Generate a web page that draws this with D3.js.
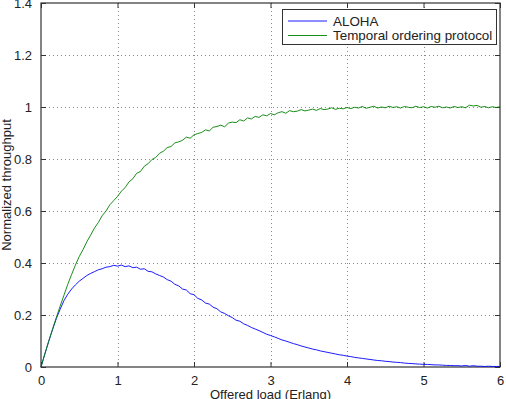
<!DOCTYPE html>
<html>
<head>
<meta charset="utf-8">
<script src="https://cdn.jsdelivr.net/npm/d3@7"></script>
<style>
body {margin:0; background:white;}
svg {display:block;}
text {font-family:"Liberation Sans", Arial, sans-serif;}
</style>
</head>
<body>
<svg></svg>
<script>

// offered load values, step 0.05 from 0 to 6
var loads = d3.range(0, 121).map(function(i){ return i/20 })

var alohaVals = [
0, 0.050, 0.098, 0.143, 0.186, 0.222, 0.255, 0.280, 0.300, 0.316,
0.330, 0.341, 0.352, 0.360, 0.367, 0.374, 0.378, 0.384, 0.386, 0.391,
0.388, 0.392, 0.386, 0.389, 0.382, 0.384, 0.376, 0.378, 0.368, 0.366,
0.358, 0.352, 0.346, 0.336, 0.330, 0.318, 0.312, 0.300, 0.296, 0.282,
0.278, 0.264, 0.258, 0.246, 0.242, 0.230, 0.224, 0.212, 0.206, 0.197,
0.190, 0.180, 0.176, 0.166, 0.160, 0.152, 0.146, 0.140, 0.133, 0.126,
0.121, 0.116, 0.110, 0.104, 0.100, 0.095, 0.090, 0.086, 0.081, 0.077,
0.073, 0.069, 0.066, 0.062, 0.059, 0.056, 0.053, 0.050, 0.047, 0.045,
0.042, 0.040, 0.037, 0.035, 0.033, 0.031, 0.029, 0.027, 0.025, 0.024,
0.022, 0.021, 0.019, 0.018, 0.017, 0.015, 0.014, 0.013, 0.012, 0.011,
0.010, 0.010, 0.009, 0.008, 0.008, 0.007, 0.006, 0.006, 0.005, 0.005,
0.004, 0.006, 0.003, 0.005, 0.003, 0.003, 0.002, 0.003, 0.002, 0.002,
0.002]

var temporalVals = [
0, 0.050, 0.098, 0.145, 0.190, 0.234, 0.276, 0.318, 0.356, 0.392,
0.425, 0.452, 0.482, 0.508, 0.535, 0.556, 0.582, 0.600, 0.624, 0.640,
0.656, 0.676, 0.690, 0.712, 0.724, 0.745, 0.752, 0.772, 0.782, 0.798,
0.806, 0.822, 0.830, 0.844, 0.848, 0.862, 0.866, 0.872, 0.884, 0.880,
0.893, 0.898, 0.902, 0.912, 0.908, 0.922, 0.925, 0.930, 0.924, 0.938,
0.942, 0.940, 0.951, 0.946, 0.958, 0.954, 0.964, 0.960, 0.970, 0.966,
0.975, 0.970, 0.978, 0.982, 0.976, 0.986, 0.982, 0.984, 0.990, 0.985,
0.988, 0.992, 0.987, 0.994, 0.990, 0.992, 0.997, 0.991, 0.995, 0.993,
0.998, 0.994, 0.999, 0.996, 1.002, 0.995, 0.999, 1.003, 0.996, 1.000,
0.997, 1.003, 0.998, 1.001, 0.996, 1.002, 0.999, 0.997, 1.003, 0.998,
1.001, 0.996, 1.002, 0.999, 1.003, 0.997, 1.000, 0.996, 1.002, 0.998,
1.001, 0.997, 1.007, 1.004, 1.006, 0.999, 1.002, 0.997, 1.001, 0.998,
1.001]

var seriesNames = ["ALOHA", "Temporal ordering protocol"]
var seriesColors = ["#0000ff", "#008000"]
var xTicks = [0, 1, 2, 3, 4, 5, 6]
var yTicks = [0, 0.2, 0.4, 0.6, 0.8, 1, 1.2, 1.4]

var screen = {width:506, height:399}
var margins = {top:3, right:6, bottom:32, left:41}

var setup = function()
{
    var svg = d3.select("svg")
        .attr("width", screen.width)
        .attr("height", screen.height)

    var width = screen.width - margins.left - margins.right
    var height = screen.height - margins.top - margins.bottom

    var xScale = d3.scaleLinear()
                    .domain([0, 6])
                    .range([0, width])
    var yScale = d3.scaleLinear()
                    .domain([0, 1.4])
                    .range([height, 0])

    var graph = svg.append("g")
        .attr("id", "graph")
        .attr("transform", "translate(" + margins.left + "," + margins.top + ")")

    // dotted grid
    graph.append("g").selectAll("line.gx")
        .data(xTicks.slice(1, -1))
        .enter().append("line")
        .attr("x1", function(d){ return Math.round(xScale(d)) + 0.5 })
        .attr("x2", function(d){ return Math.round(xScale(d)) + 0.5 })
        .attr("y1", 0).attr("y2", height)
        .attr("stroke", "#888").attr("stroke-dasharray", "1,3")
    graph.append("g").selectAll("line.gy")
        .data(yTicks.slice(1, -1))
        .enter().append("line")
        .attr("y1", function(d){ return Math.round(yScale(d)) + 0.5 })
        .attr("y2", function(d){ return Math.round(yScale(d)) + 0.5 })
        .attr("x1", 0).attr("x2", width)
        .attr("stroke", "#888").attr("stroke-dasharray", "1,3")

    // axes, ticks pointing inward like matlab
    var fmt = function(d){ return d3.format("~g")(d) }
    var xAxis = d3.axisBottom(xScale).tickValues(xTicks).tickSizeInner(-5).tickSizeOuter(0).tickPadding(9).tickFormat(fmt)
    var yAxis = d3.axisLeft(yScale).tickValues(yTicks).tickSizeInner(-5).tickSizeOuter(0).tickPadding(9).tickFormat(fmt)
    var xTop = d3.axisTop(xScale).tickValues(xTicks).tickSizeInner(-5).tickSizeOuter(0).tickFormat("")
    var yRight = d3.axisRight(yScale).tickValues(yTicks).tickSizeInner(-5).tickSizeOuter(0).tickFormat("")

    graph.append("g").attr("class", "axis").attr("transform", "translate(0," + height + ")").call(xAxis)
    graph.append("g").attr("class", "axis").call(yAxis)
    graph.append("g").attr("class", "axis").call(xTop)
    graph.append("g").attr("class", "axis").attr("transform", "translate(" + width + ",0)").call(yRight)

    graph.selectAll(".axis path").remove()
    graph.selectAll(".axis line").attr("stroke", "#333")
    graph.selectAll(".axis text").attr("font-size", 13).attr("fill", "#222")
        .attr("font-family", "Liberation Sans, Arial, sans-serif")

    graph.append("rect")
        .attr("x", 0).attr("y", 0)
        .attr("width", width).attr("height", height)
        .attr("fill", "none").attr("stroke", "#333").attr("stroke-width", 1.2)

    drawLines(graph, xScale, yScale)
    drawLegend(graph, width)

    svg.append("text")
        .text("Offered load (Erlang)")
        .attr("x", margins.left + width / 2)
        .attr("y", 399)
        .attr("text-anchor", "middle")
        .attr("font-size", 13)
        .attr("fill", "#222")

    svg.append("text")
        .text("Normalized throughput")
        .attr("transform", "translate(11," + (margins.top + height / 2) + ") rotate(-90)")
        .attr("text-anchor", "middle")
        .attr("font-size", 13)
        .attr("fill", "#222")
}

var drawLines = function(graph, xScale, yScale)
{
    var line = d3.line()
        .x(function(d, i){ return xScale(loads[i]) })
        .y(function(d){ return yScale(d) })

    graph.selectAll("path.series")
        .data([alohaVals, temporalVals])
        .enter()
        .append("path")
        .attr("class", "series")
        .attr("d", line)
        .attr("fill", "none")
        .attr("stroke", function(d, i){ return seriesColors[i] })
        .attr("stroke-width", 0.9)
}

var drawLegend = function(graph, width)
{
    var legend = graph.append("g")
        .attr("id", "legend")
        .attr("transform", "translate(" + (width - 218) + ",6)")

    legend.append("rect")
        .attr("x", 0.5).attr("y", 0.5)
        .attr("width", 214).attr("height", 35)
        .attr("fill", "white").attr("stroke", "#333")

    var gs = legend.selectAll("g")
        .data(seriesNames)
        .enter()
        .append("g")
        .attr("transform", function(d, i){ return "translate(0," + (12 + i * 14.5) + ")" })

    gs.append("line")
        .attr("x1", 6).attr("x2", 45)
        .attr("stroke", function(d, i){ return seriesColors[i] })
        .attr("stroke-width", 0.9)

    gs.append("text")
        .text(function(d){ return d })
        .attr("x", 51)
        .attr("y", 4.5)
        .attr("font-size", 13.4)
        .attr("fill", "#222")
}

setup()

</script>
</body>
</html>
